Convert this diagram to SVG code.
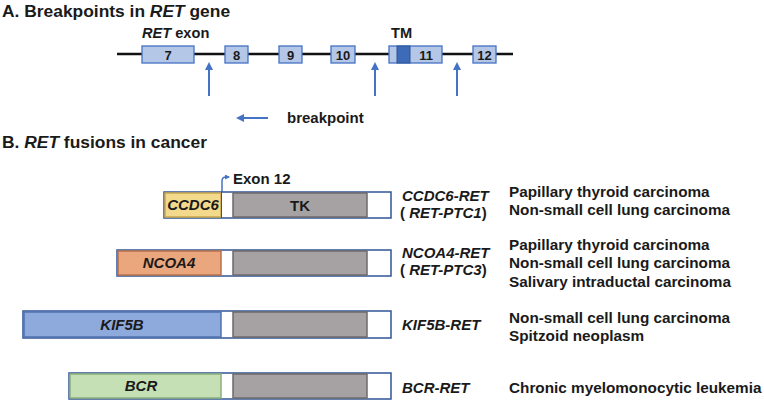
<svg xmlns="http://www.w3.org/2000/svg" width="764" height="401" viewBox="0 0 764 401">
<defs>
<style>
text{font-family:"Liberation Sans",Arial,sans-serif;font-weight:bold;fill:#1a1a1a}
.title{font-size:17.4px}
.lab{font-size:14.6px}
.dis{font-size:15.3px}
.fus{font-size:15px}
.num{font-size:13px;text-anchor:middle}
.it{font-style:italic}
.seg{font-size:15px;font-style:italic;text-anchor:middle}
.exon{fill:#B4C7E7;stroke:#4472C4;stroke-width:1.3}
.bar{fill:#fff;stroke:#2F5597;stroke-width:1.5}
.ba{stroke:#4472C4;stroke-width:2;fill:none}
.tk{fill:#A6A2A3;stroke:#6E6A6B;stroke-width:1.5}
</style>
<marker id="ah" markerWidth="8" markerHeight="8" refX="6" refY="4" orient="auto" markerUnits="userSpaceOnUse">
<path d="M0,0 L8,4 L0,8 Z" fill="#4472C4"/>
</marker>
<marker id="ah2" markerWidth="5" markerHeight="5" refX="4" refY="2.5" orient="auto" markerUnits="userSpaceOnUse">
<path d="M0,0 L5,2.5 L0,5 Z" fill="#4472C4"/>
</marker>
</defs>
<rect width="764" height="401" fill="#fff"/>

<text class="title" x="2" y="17">A. Breakpoints in <tspan class="it">RET</tspan> gene</text>

<g id="gene">
<line x1="117" y1="54" x2="513" y2="54" stroke="#111" stroke-width="2.5"/>
</g>
<g id="exon7"><rect class="exon" x="142" y="46" width="52" height="17"/><text class="num" x="168" y="60">7</text></g>
<g id="exon8"><rect class="exon" x="225" y="46" width="23" height="17"/><text class="num" x="236.5" y="60">8</text></g>
<g id="exon9"><rect class="exon" x="279" y="46" width="23" height="17"/><text class="num" x="290.5" y="60">9</text></g>
<g id="exon10"><rect class="exon" x="331" y="46" width="24" height="17"/><text class="num" x="343" y="60">10</text></g>
<g id="exon11"><rect class="exon" x="389" y="46" width="53" height="17"/><rect x="397" y="46" width="13" height="17" fill="#3E6BB8" stroke="#2F5597" stroke-width="1"/><text class="num" x="426" y="60">11</text></g>
<g id="exon12"><rect class="exon" x="473" y="46" width="23" height="17"/><text class="num" x="484.5" y="60">12</text></g>
<text class="lab" x="142" y="38"><tspan class="it">RET</tspan> exon</text>
<text class="lab" x="391" y="38">TM</text>

<g id="connectors">
<line class="ba" x1="209" y1="96" x2="209" y2="64" marker-end="url(#ah)"/>
<line class="ba" x1="375" y1="96" x2="375" y2="64" marker-end="url(#ah)"/>
<line class="ba" x1="457" y1="96" x2="457" y2="64" marker-end="url(#ah)"/>
<line class="ba" x1="268" y1="118" x2="238" y2="118" marker-end="url(#ah)"/>
<path d="M222,192 V181 Q222,177 226,177 H229" stroke="#4472C4" stroke-width="1.5" fill="none" marker-end="url(#ah2)"/>
</g>
<text class="fus" x="287" y="123">breakpoint</text>

<text class="title" x="2" y="148">B. <tspan class="it">RET</tspan> fusions in cancer</text>

<g id="ccdc6">
<rect class="bar" x="164" y="192" width="227" height="26"/>
<rect x="165" y="193" width="56" height="24" fill="#F3D98B" stroke="#C9A64C" stroke-width="1.5"/>
<rect class="tk" x="233" y="193" width="134" height="24"/>
<line x1="221.5" y1="192" x2="221.5" y2="218" stroke="#2F5597" stroke-width="1"/>
<text class="seg" x="193" y="210">CCDC6</text>
<text x="300" y="211" style="font-size:15px;text-anchor:middle">TK</text>
</g>
<text class="fus" x="233" y="184">Exon 12</text>

<g id="ncoa4">
<rect class="bar" x="117" y="250" width="274" height="26"/>
<rect x="118" y="251" width="103" height="24" fill="#EAA67D" stroke="#B8704A" stroke-width="1.5"/>
<rect class="tk" x="233" y="251" width="134" height="24"/>
<text class="seg" x="169" y="268">NCOA4</text>
</g>

<g id="kif5b">
<rect class="bar" x="23" y="311" width="368" height="27"/>
<rect x="24" y="312" width="197" height="25" fill="#8EA9DB" stroke="#4F72B0" stroke-width="1.5"/>
<rect class="tk" x="233" y="312" width="134" height="25"/>
<text class="seg" x="122" y="330">KIF5B</text>
</g>

<g id="bcr">
<rect class="bar" x="69" y="373" width="322" height="26"/>
<rect x="70" y="374" width="151" height="24" fill="#C5E0B4" stroke="#8BB07A" stroke-width="1.5"/>
<rect class="tk" x="233" y="374" width="134" height="24"/>
<text class="seg" x="141" y="391">BCR</text>
</g>

<g id="labels">
<text class="fus it" x="402" y="201">CCDC6-RET</text>
<text class="fus" x="400" y="218">( <tspan class="it">RET-PTC1</tspan>)</text>
<text class="dis" x="509" y="197">Papillary thyroid carcinoma</text>
<text class="dis" x="509" y="215">Non-small cell lung carcinoma</text>

<text class="fus it" x="402" y="258">NCOA4-RET</text>
<text class="fus" x="400" y="275">( <tspan class="it">RET-PTC3</tspan>)</text>
<text class="dis" x="509" y="250">Papillary thyroid carcinoma</text>
<text class="dis" x="509" y="268">Non-small cell lung carcinoma</text>
<text class="dis" x="509" y="287">Salivary intraductal carcinoma</text>

<text class="fus it" x="402" y="330">KIF5B-RET</text>
<text class="dis" x="509" y="323">Non-small cell lung carcinoma</text>
<text class="dis" x="509" y="341">Spitzoid neoplasm</text>

<text class="fus it" x="402" y="393">BCR-RET</text>
<text class="dis" x="509" y="393">Chronic myelomonocytic leukemia</text>
</g>
</svg>
